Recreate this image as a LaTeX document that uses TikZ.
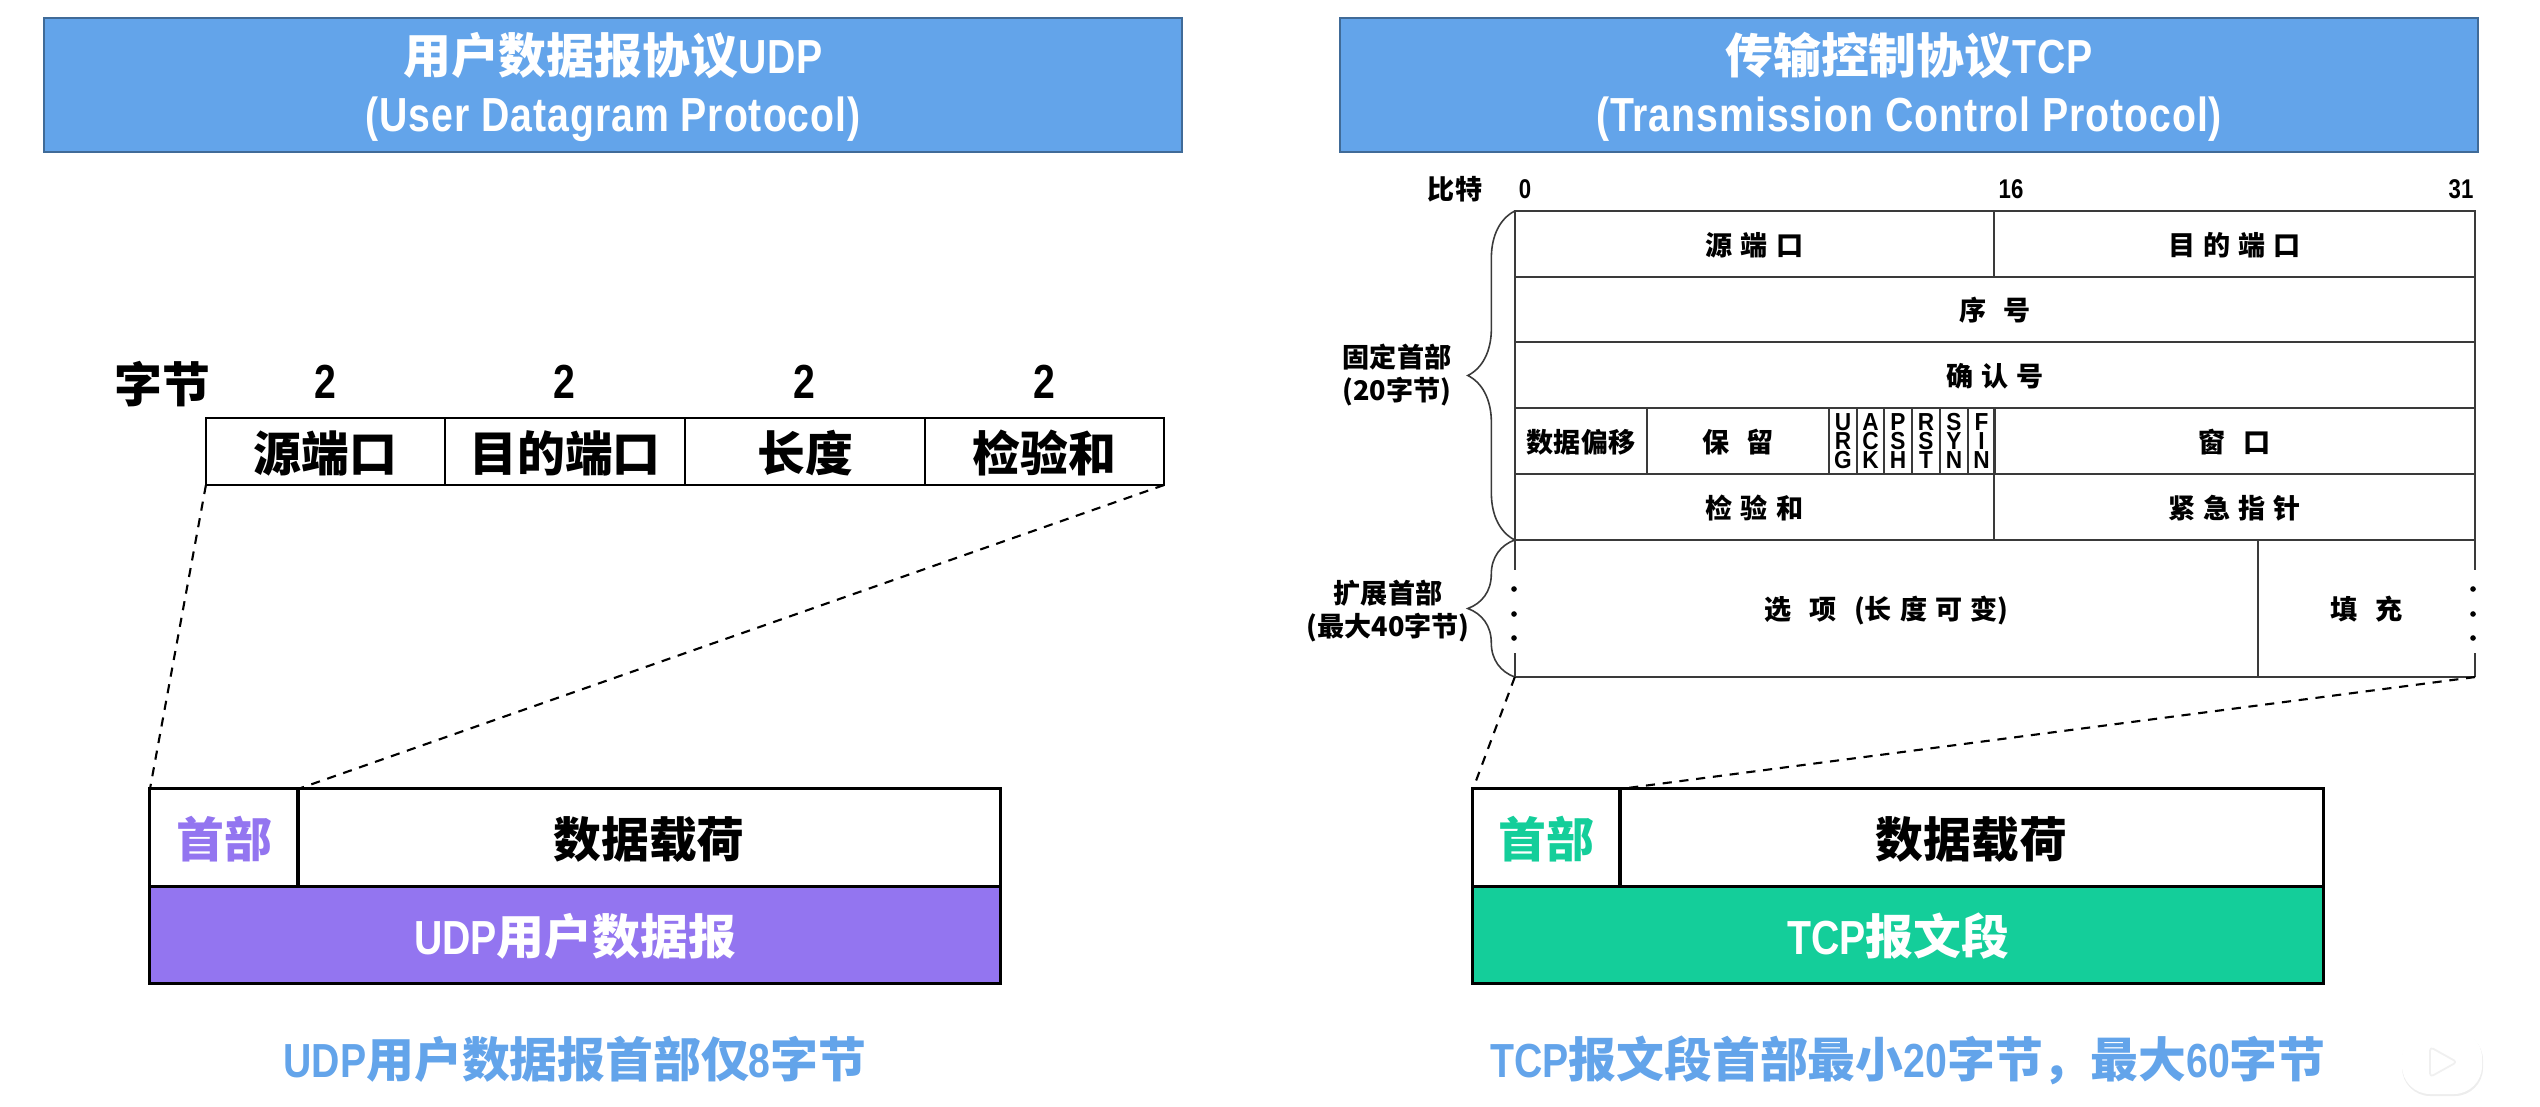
\documentclass[tikz,border=0pt]{standalone}
\usepackage{fontspec}
\setmainfont{Noto Sans CJK SC}
\newfontfamily\latfont{Liberation Sans}[FakeStretch=.82]
\newfontfamily\headfont{Liberation Sans}[FakeStretch=.82,LetterSpace=2]
\newfontfamily\flagfont{Liberation Sans}[FakeStretch=.92]
\usetikzlibrary{decorations.pathreplacing}
\definecolor{titleblue}{HTML}{63A4EA}
\definecolor{udppurple}{HTML}{9375F0}
\definecolor{tcpgreen}{HTML}{14CE9A}
\definecolor{tableline}{HTML}{3A3A3A}
\newcommand{\gapa}{\hspace{2.3pt}}
\newcommand{\gapb}{\hspace{5pt}}
\newcommand{\lat}[1]{{\latfont #1}}
\newcommand{\headlat}[1]{{\headfont #1}}
\tikzset{
  bigtext/.style={font=\fontsize{13.6}{16.5}\selectfont\bfseries},
  smalltext/.style={font=\fontsize{7.7}{9.2}\selectfont\bfseries},
  bigcell/.style={bigtext,text height=12.9pt,text depth=1.6pt,inner sep=0pt,outer sep=0pt},
  smallcell/.style={smalltext,text height=7.3pt,text depth=.9pt,inner sep=0pt,outer sep=0pt},
  titlebox/.style={draw=titleblue!65!black,line width=.6pt,fill=titleblue,minimum width=11.38cm,
    minimum height=1.34cm,inner sep=0pt,outer sep=0pt},
  titletext/.style={text=white,bigtext,align=center,inner sep=0pt},
  fieldcell/.style={draw,line width=.8pt,bigcell,minimum height=.67cm},
  packetcell/.style={draw,line width=.85pt,bigcell,minimum height=.97cm},
  tcpcell/.style={draw=tableline,line width=.5pt,smallcell,minimum height=.66cm},
  flagcell/.style={draw=tableline,line width=.45pt,minimum width=.275cm,minimum height=.66cm,inner sep=0pt,
    outer sep=0pt,align=center,font=\flagfont\fontsize{7}{5.4}\selectfont\bfseries},
  zoomline/.style={dashed,line width=.6pt,dash pattern=on 2.6pt off 2.2pt},
  bracket/.style={draw=tableline,line width=.45pt,decorate,decoration={brace,amplitude=.47cm}},
}
\begin{document}
\begin{tikzpicture}[x=.01cm,y=-.01cm]
\useasboundingbox (0,0) rectangle (2540,1106);
\node[titlebox] (udptitle) at (613,85) {};
\node[titlebox] (tcptitle) at (1909,85) {};
\node[titletext] (udpname) at (613,87) {用户数据报协议\headlat{UDP}\\\headlat{(User Datagram Protocol)}};
\node[titletext] (tcpname) at (1909,87) {传输控制协议\headlat{TCP}\\\headlat{(Transmission Control Protocol)}};

\node[bigtext] (bytes) at (162,384) {字节};
\foreach \x/\n in {325/a,564/b,804/c,1044/d}
  \node[bigtext] (two\n) at (\x,382) {\lat{2}};
\node[fieldcell,minimum width=2.39cm] (usrc) at (325.5,451.5) {源端口};
\node[fieldcell,minimum width=2.40cm] (udst) at (565,451.5) {目的端口};
\node[fieldcell,minimum width=2.40cm] (ulen) at (805,451.5) {长度};
\node[fieldcell,minimum width=2.39cm] (usum) at (1044.5,451.5) {检验和};

\node[packetcell,minimum width=1.48cm,text=udppurple] (uhead) at (224,837.5) {首部};
\node[packetcell,minimum width=7.02cm] (udata) at (649,837.5) {数据载荷};
\node[packetcell,minimum width=8.50cm,fill=udppurple,text=white] (ubar) at (575,935) {\lat{UDP}用户数据报};
\draw[zoomline] (usrc.south west) -- (uhead.north west);
\draw[zoomline] (usum.south east) -- (uhead.north east);
\node[bigcell,text=titleblue] (ucap) at (575,1058) {\lat{UDP}用户数据报首部仅\lat{8}字节};

\node[smalltext] (bits) at (1455,189) {比特};
\node[smalltext] (bit0) at (1525,189) {\lat{0}};
\node[smalltext] (bit16) at (2011,189) {\lat{16}};
\node[smalltext] (bit31) at (2461,189) {\lat{31}};

\node[tcpcell,minimum width=4.79cm] (src) at (1754.5,244) {源\gapa 端\gapa 口};
\node[tcpcell,minimum width=4.81cm] (dst) at (2234.5,244) {目\gapa 的\gapa 端\gapa 口};
\node[tcpcell,minimum width=9.60cm] (seq) at (1995,309.5) {序\gapb 号};
\node[tcpcell,minimum width=9.60cm] (ack) at (1995,375) {确\gapa 认\gapa 号};
\node[tcpcell,minimum width=1.32cm] (offs) at (1581,441) {数据偏移};
\node[tcpcell,minimum width=1.82cm] (rsv) at (1738,441) {保\gapb 留};
\foreach \n/\x/\t in {urg/1843/{U\\R\\G},ack/1870.5/{A\\C\\K},psh/1898/{P\\S\\H},rst/1926/{R\\S\\T},syn/1954/{S\\Y\\N},fin/1981.5/{F\\I\\N}}
  \node[flagcell] (f\n) at (\x,441) {\t};
\node[tcpcell,minimum width=4.81cm] (win) at (2234.5,441) {窗\gapb 口};
\node[tcpcell,minimum width=4.79cm] (sum) at (1754.5,507) {检\gapa 验\gapa 和};
\node[tcpcell,minimum width=4.81cm] (urg) at (2234.5,507) {紧\gapa 急\gapa 指\gapa 针};

\node[smallcell,minimum width=7.43cm,minimum height=1.37cm] (opt) at (1886.5,608.5) {选\gapb 项\gapb (长\gapa 度\gapa 可\gapa 变)};
\node[smallcell,minimum width=2.17cm,minimum height=1.37cm] (pad) at (2366.5,608.5) {填\gapb 充};
\draw[tableline,line width=.5pt] (opt.south west) -- (pad.south east);
\draw[tableline,line width=.4pt] (pad.north west) -- (pad.south west);
\draw[tableline,line width=.4pt] (opt.north west) -- ++(0,30);
\draw[tableline,line width=.4pt] (opt.south west) -- ++(0,-24);
\draw[tableline,line width=.4pt] (pad.north east) -- ++(0,30);
\draw[tableline,line width=.4pt] (pad.south east) -- ++(0,-24);
\foreach \y in {589,614,638} {
  \fill (1514,\y) circle (.8pt);
  \fill (2473,\y) circle (.8pt);
}

\draw[bracket] (sum.south west) -- (src.north west);
\draw[bracket] (opt.south west) -- (opt.north west);
\node[smalltext,align=center] (fixedhd) at (1397,375) {固定首部\\(20字节)};
\node[smalltext,align=center] (exthd) at (1388,611) {扩展首部\\(最大40字节)};

\node[packetcell,minimum width=1.47cm,text=tcpgreen] (thead) at (1546.5,837.5) {首部};
\node[packetcell,minimum width=7.03cm] (tdata) at (1971.5,837.5) {数据载荷};
\node[packetcell,minimum width=8.50cm,fill=tcpgreen,text=white] (tbar) at (1898,935) {\lat{TCP}报文段};
\draw[zoomline] (opt.south west) -- (thead.north west);
\draw[zoomline] (pad.south east) -- (thead.north east);
\node[bigcell,text=titleblue] (tcap) at (1908,1058) {\lat{TCP}报文段首部最小\lat{20}字节，最大\lat{60}字节};

\fill[black!7,rounded corners=8pt] (2402,1032) rectangle (2483,1096);
\fill[white,rounded corners=8pt] (2402,1030) rectangle (2482,1094);
\draw[white,line width=2.4pt,line cap=round] (2433,1030) -- (2425,1021);
\draw[white,line width=2.4pt,line cap=round] (2451,1030) -- (2459,1021);
\draw[black!6,line width=.5pt,line join=round,rounded corners=1pt] (2430,1047) -- (2457,1062) -- (2430,1077) -- cycle;
\end{tikzpicture}
\end{document}
